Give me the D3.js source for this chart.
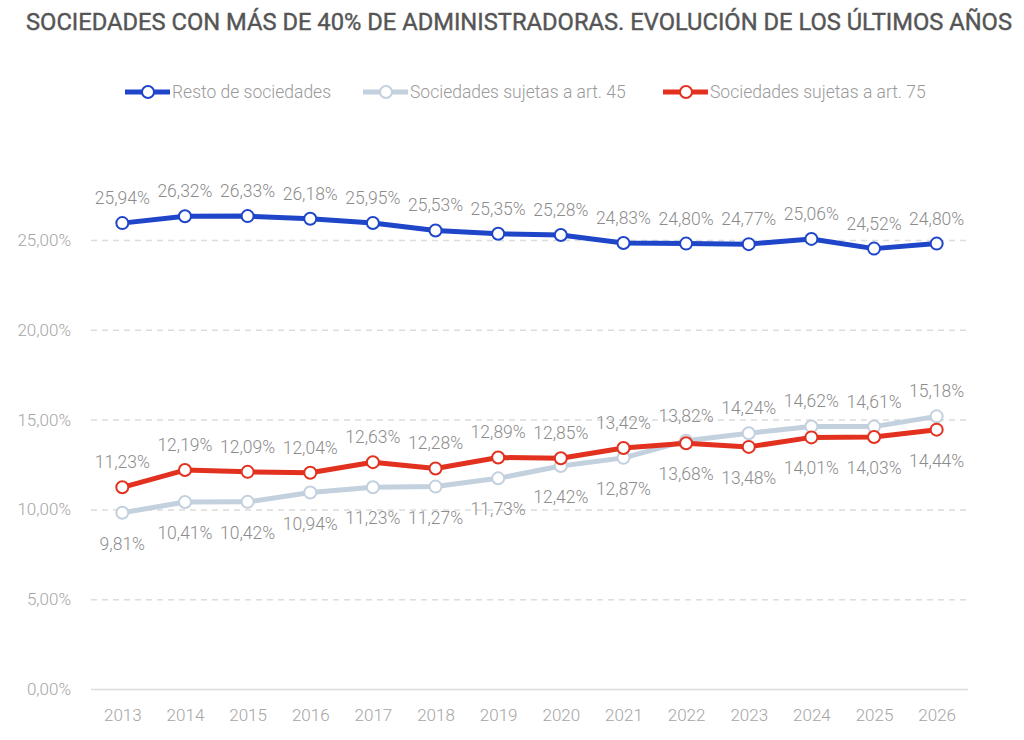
<!DOCTYPE html>
<html>
<head>
<meta charset="utf-8">
<script src="https://cdn.jsdelivr.net/npm/d3@7"></script>
<style>
body { margin: 0; background: #fff; }
text { font-family: Roboto, "Noto Sans", sans-serif; }
</style>
</head>
<body>
<div id="chart"></div>
<script>

let width = 1024

let height = 740

let years = ['2013', '2014', '2015', '2016', '2017', '2018', '2019', '2020', '2021', '2022', '2023', '2024', '2025', '2026']

let resto = [25.94, 26.32, 26.33, 26.18, 25.95, 25.53, 25.35, 25.28, 24.83, 24.80, 24.77, 25.06, 24.52, 24.80]

let art45 = [9.81, 10.41, 10.42, 10.94, 11.23, 11.27, 11.73, 12.42, 12.87, 13.82, 14.24, 14.62, 14.61, 15.18]

let art75 = [11.23, 12.19, 12.09, 12.04, 12.63, 12.28, 12.89, 12.85, 13.42, 13.68, 13.48, 14.01, 14.03, 14.44]

let yTicks = [0, 5, 10, 15, 20, 25]

let seriesNames = ['Resto de sociedades', 'Sociedades sujetas a art. 45', 'Sociedades sujetas a art. 75']

let seriesColors = ['#1f45c9', '#c3d0de', '#e2311f']

let fmt = v => v.toFixed(2).replace('.', ',') + '%'

const svg = d3.select('#chart')
	.append('svg')
	.attr('width', width)
	.attr('height', height)

svg.append('text')
	.attr('x', 26)
	.attr('y', 30)
	.attr('textLength', 986)
	.attr('lengthAdjust', 'spacingAndGlyphs')
	.attr('font-size', 24)
	.attr('font-weight', 400)
	.attr('fill', '#555')
	.attr('stroke', '#555')
	.attr('stroke-width', 0.4)
	.text('SOCIEDADES CON MÁS DE 40% DE ADMINISTRADORAS. EVOLUCIÓN DE LOS ÚLTIMOS AÑOS')

let x = d3.scalePoint()
	.domain(years)
	.range([91, 968])
	.padding(0.5)

let y = d3.scaleLinear()
	.domain([0, 25])
	.range([689, 240])

// grid
svg.append('g')
	.attr('transform', 'translate(91,0)')
	.call(d3.axisLeft(y).tickValues(yTicks).tickSize(-(968 - 91)).tickFormat(fmt))
	.call(g => g.select('.domain').remove())
	.call(g => g.selectAll('.tick line')
		.attr('stroke', '#dcdcdc')
		.attr('stroke-width', 1.5)
		.attr('stroke-dasharray', d => d === 0 ? null : '6,5'))
	.call(g => g.selectAll('.tick text')
		.attr('x', -20)
		.attr('fill', '#a5a5a5')
		.attr('font-size', 17)
		.attr('font-weight', 300))

svg.append('g')
	.attr('transform', 'translate(0,689)')
	.call(d3.axisBottom(x).tickSize(0).tickPadding(20))
	.call(g => g.select('.domain').remove())
	.call(g => g.selectAll('.tick text')
		.attr('fill', '#a5a5a5')
		.attr('font-size', 17)
		.attr('font-weight', 300))

let series = [resto, art45, art75]

let line = d3.line()
	.x((d, i) => x(years[i]))
	.y(d => y(d))

// draw grey first, then red, then blue
let order = [1, 2, 0]

order.forEach(s => {
	svg.append('path')
		.datum(series[s])
		.attr('d', line)
		.attr('fill', 'none')
		.attr('stroke', seriesColors[s])
		.attr('stroke-width', 5)
		.attr('stroke-linejoin', 'round')
})

order.forEach(s => {
	svg.selectAll('.pt' + s)
		.data(series[s])
		.enter()
		.append('circle')
		.attr('cx', (d, i) => x(years[i]))
		.attr('cy', d => y(d))
		.attr('r', 6)
		.attr('fill', 'white')
		.attr('stroke', seriesColors[s])
		.attr('stroke-width', 2)
})

// value labels: higher of art45/art75 gets its label above
function above(s, i){
	if(s === 0) return true
	let other = s === 1 ? art75[i] : art45[i]
	return series[s][i] >= other
}

order.forEach(s => {
	svg.selectAll('.lbl' + s)
		.data(series[s])
		.enter()
		.append('text')
		.attr('x', (d, i) => x(years[i]))
		.attr('y', (d, i) => y(d) + (above(s, i) ? -19 : 37))
		.attr('text-anchor', 'middle')
		.attr('font-size', 17.5)
		.attr('font-weight', 300)
		.attr('fill', '#8c8c8c')
		.text(d => fmt(d))
})

// legend
let legendX = [125, 363, 663]

seriesNames.forEach((name, s) => {
	let g = svg.append('g').attr('transform', `translate(${legendX[s]},92)`)
	g.append('line')
		.attr('x1', 0).attr('x2', 45)
		.attr('stroke', seriesColors[s])
		.attr('stroke-width', 5)
	g.append('circle')
		.attr('cx', 23).attr('r', 6)
		.attr('fill', 'white')
		.attr('stroke', seriesColors[s])
		.attr('stroke-width', 2)
	g.append('text')
		.attr('x', 47)
		.attr('y', 6)
		.attr('font-size', 17.5)
		.attr('font-weight', 300)
		.attr('fill', '#9a9a9a')
		.text(name)
})

</script>
</body>
</html>
